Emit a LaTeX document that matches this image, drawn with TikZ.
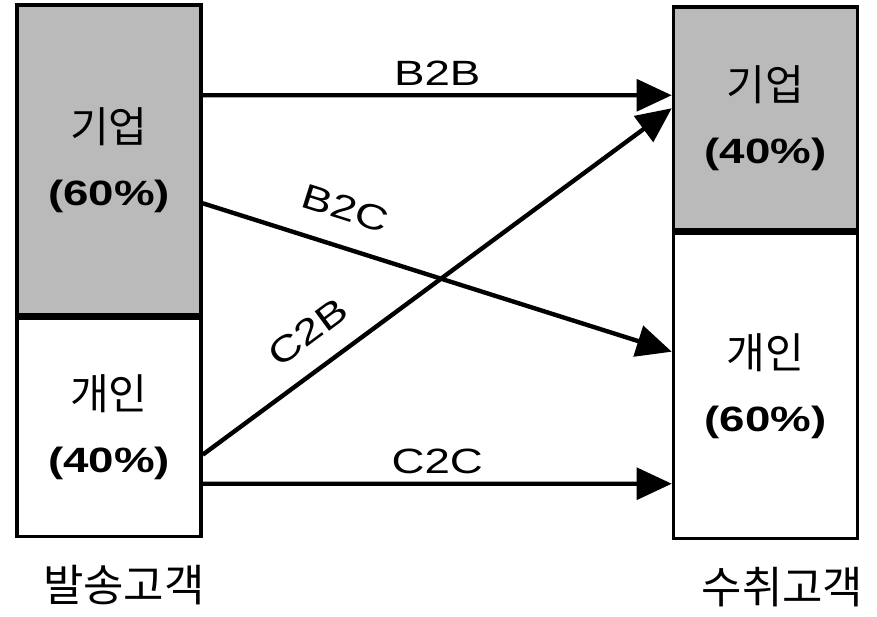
\documentclass[tikz,border=0pt]{standalone}
\usepackage{fontspec}
\setmainfont{Liberation Sans}
\newfontfamily\latfont[FakeStretch=1.3]{Liberation Sans}
\newfontfamily\korfont{Noto Sans CJK KR}
\usetikzlibrary{arrows.meta}
\usetikzlibrary{calc,positioning}
\tikzset{>={Triangle[length=20pt,width=18pt]}}

\begin{document}
\begin{tikzpicture}[
        x=0.02cm, y=-0.02cm,
        part/.style={
            draw,
            line width=2pt,
            minimum width=3.68cm,
            inner sep=0pt,
            align=center,
            font=\fontsize{20}{36}\selectfont,
        },
        flow/.style={
            ->,
            line width=2.5pt,
        },
        flowlabel/.style={
            font=\latfont\fontsize{20}{24}\selectfont,
        },
    ]
        \useasboundingbox (0,0) rectangle (877,617);

        % sending side
        \node[part, fill=black!27, minimum height=6.2cm] (lbiz) at (109,160)
            {{\korfont\fontsize{24}{36}\selectfont 기업}\\{\latfont\bfseries (60\%)}};
        \node[part, below=0pt of lbiz, minimum height=4.36cm] (lind)
            {{\korfont\fontsize{24}{36}\selectfont 개인}\\{\latfont\bfseries (40\%)}};

        % receiving side
        \node[part, fill=black!27, minimum height=4.46cm] (rbiz) at (765.5,118.5)
            {{\korfont\fontsize{24}{36}\selectfont 기업}\\{\latfont\bfseries (40\%)}};
        \node[part, below=0pt of rbiz, minimum height=6.1cm] (rind)
            {{\korfont\fontsize{24}{36}\selectfont 개인}\\{\latfont\bfseries (60\%)}};

        % captions
        \node[below=12pt of lind, xshift=15*0.02cm, font=\korfont\fontsize{25}{30}\selectfont] (lsend) {발송고객};
        \node[below=12pt of rind, xshift=17*0.02cm, font=\korfont\fontsize{25}{30}\selectfont] (rrecv) {수취고객};

        % flows
        \draw[flow] ($(lbiz.north east)+(0,92)$) -- ($(rbiz.north west)+(0,90)$)
            node[flowlabel, midway, above=1pt] {B2B};
        \draw[flow] ($(lbiz.north east)+(0,200)$) -- ($(rind.north west)+(0,120)$)
            node[flowlabel, pos=0.28, sloped, above=10pt] {B2C};
        \draw[flow] ($(lind.north east)+(0,138)$) -- ($(rbiz.north west)+(0,103)$)
            node[flowlabel, pos=0.27, sloped, above=9pt] {C2B};
        \draw[flow] ($(lind.north east)+(0,167)$) -- ($(rind.north west)+(0,252)$)
            node[flowlabel, midway, above=1pt] {C2C};
    \end{tikzpicture}
\end{document}
